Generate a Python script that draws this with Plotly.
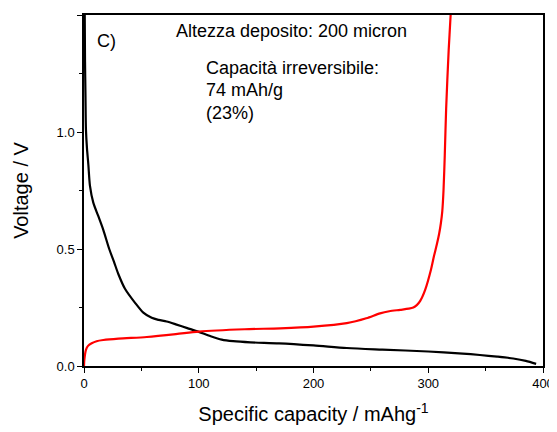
import plotly.graph_objects as go

# Discharge (black)
discharge_cap = [0.5, 0.9, 1.3, 1.7, 2.6, 3.8, 5.2, 8.1, 12.5, 16.8, 22, 26, 30, 35.7, 44.5, 51.7, 59,
                 65, 72, 80, 90, 100, 110, 120, 130, 145, 170, 200, 229, 260, 300, 330, 345, 360, 374,
                 385, 394]
discharge_v = [1.6, 1.3, 1.15, 1.01, 0.93, 0.86, 0.77, 0.698, 0.64, 0.582, 0.5, 0.447, 0.392, 0.33,
               0.27, 0.228, 0.206, 0.197, 0.19, 0.178, 0.162, 0.146, 0.128, 0.113, 0.106, 0.101, 0.097,
               0.088, 0.077, 0.07, 0.062, 0.053, 0.047, 0.04, 0.032, 0.022, 0.009]

# Charge (red)
charge_cap = [0, 0.3, 1.7, 3.5, 6.7, 11, 16.8, 30, 54.7, 80, 100, 140, 171, 200, 229, 246, 258, 266,
              275.5, 283, 287, 290, 293, 297.3, 302.3, 305, 307.5, 309.5, 311, 312.2, 313.3, 314.4,
              315.6, 317.8, 319.5, 320.2]
charge_v = [0.0, 0.026, 0.069, 0.086, 0.097, 0.106, 0.111, 0.117, 0.124, 0.136, 0.147, 0.157, 0.161,
            0.168, 0.183, 0.204, 0.225, 0.234, 0.24, 0.245, 0.25, 0.26, 0.278, 0.325, 0.41, 0.47, 0.52,
            0.565, 0.61, 0.66, 0.75, 0.9, 1.1, 1.35, 1.5, 1.6]

x_ticks = [0, 100, 200, 300, 400]
y_ticks = [0.0, 0.5, 1.0, 1.5]
y_tick_labels = ["0.0", "0.5", "1.0", "1.5"]

FONT = "Liberation Sans, Arial, sans-serif"

fig = go.Figure()
fig.add_trace(go.Scatter(x=discharge_cap, y=discharge_v, mode="lines",
                         line=dict(color="black", width=2.2, shape="spline", smoothing=0.8),
                         showlegend=False))
fig.add_trace(go.Scatter(x=charge_cap, y=charge_v, mode="lines",
                         line=dict(color="#ff0000", width=2.2, shape="spline", smoothing=0.8),
                         showlegend=False))

# The page body has an 8px default margin, so the figure is sized/margined to compensate.
fig.update_layout(
    width=549, height=424,
    margin=dict(l=76, r=14, t=7, b=66),
    paper_bgcolor="white", plot_bgcolor="white",
    font=dict(family=FONT, color="black"),
    showlegend=False,
)
fig.update_xaxes(range=[0, 400], tickvals=x_ticks, ticks="outside", ticklen=5, tickwidth=1.2,
                 tickcolor="black", showline=True, linecolor="black", linewidth=1.5, mirror=True,
                 showgrid=False, zeroline=False, tickfont=dict(size=13, family=FONT), automargin=False,
                 minor=dict(ticks="outside", ticklen=3, dtick=50, tickcolor="black", showgrid=False),
                 title=dict(text="Specific capacity / mAhg<sup>-1</sup>", font=dict(size=20, family=FONT),
                            standoff=17))
fig.update_yaxes(range=[0, 1.5], tickvals=y_ticks, ticktext=y_tick_labels, ticks="outside", ticklen=5,
                 tickwidth=1.2, tickcolor="black", showline=True, linecolor="black", linewidth=1.5,
                 mirror=True, showgrid=False, zeroline=False, tickfont=dict(size=13, family=FONT),
                 automargin=False,
                 minor=dict(ticks="outside", ticklen=3, dtick=0.25, tickcolor="black", showgrid=False),
                 title=dict(text="Voltage / V", font=dict(size=20, family=FONT), standoff=23))

annots = [
    ("C)", 95, 41),
    ("Altezza deposito: 200 micron", 174, 31),
    ("Capacità irreversibile:", 204, 68),
    ("74 mAh/g", 204, 90),
    ("(23%)", 204, 113),
]
for txt, px, py in annots:
    fig.add_annotation(x=(px - 84) / 459, y=1 - (py - 15) / 351, xref="paper", yref="paper",
                       text=txt, showarrow=False, xanchor="left", yanchor="middle",
                       font=dict(size=18, family=FONT, color="black"))

fig.write_html("out.html")
